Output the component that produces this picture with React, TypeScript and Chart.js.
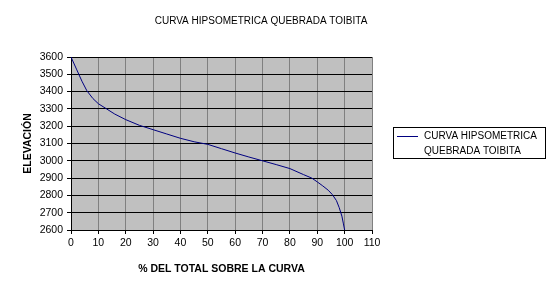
import React, { useEffect, useRef } from "react";
import { Chart, registerables } from "chart.js";

Chart.register(...registerables);

const chartTitle = "CURVA HIPSOMETRICA QUEBRADA TOIBITA";
const seriesLabel = "CURVA HIPSOMETRICA QUEBRADA TOIBITA";
const legendLines = ["CURVA HIPSOMETRICA", "QUEBRADA TOIBITA"];
const xAxisTitle = "% DEL TOTAL SOBRE LA CURVA";
const yAxisTitle = "ELEVACIÓN";

const percentAbove = [0, 2, 4, 5.8, 8, 10, 13, 16, 20, 25, 30, 35, 40, 45, 50, 55, 60, 65, 70, 75, 80, 85, 88, 90, 92, 94, 95.5, 97, 98, 99, 99.5, 100];
const elevation = [3600, 3530, 3460, 3405, 3360, 3330, 3300, 3270, 3238, 3205, 3180, 3155, 3130, 3110, 3095, 3070, 3045, 3022, 3000, 2978, 2955, 2920, 2900, 2878, 2855, 2830, 2805, 2770, 2730, 2680, 2640, 2600];

const xMin = 0;
const xMax = 110;
const xStep = 10;
const yMin = 2600;
const yMax = 3600;
const yStep = 100;

const FONT = "Arial, 'Liberation Sans', sans-serif";
const LINE_COLOR = "#000080";

const decorPlugin = {
  id: "decor",
  beforeDraw(chart: any) {
    const { ctx, chartArea } = chart;
    ctx.save();
    ctx.fillStyle = "#C0C0C0";
    ctx.fillRect(chartArea.left, chartArea.top, chartArea.right - chartArea.left, chartArea.bottom - chartArea.top);
    ctx.restore();
  },
  afterDraw(chart: any) {
    const { ctx } = chart;
    ctx.save();
    ctx.fillStyle = "#000";
    ctx.font = `10px ${FONT}`;
    ctx.textAlign = "center";
    ctx.textBaseline = "middle";
    ctx.fillText(chartTitle, 261, 21);
    ctx.strokeStyle = "#000";
    ctx.lineWidth = 1;
    ctx.strokeRect(393.5, 127.5, 152, 31);
    ctx.strokeStyle = LINE_COLOR;
    ctx.beginPath();
    ctx.moveTo(397, 136.5);
    ctx.lineTo(418, 136.5);
    ctx.stroke();
    ctx.fillStyle = "#000";
    ctx.textAlign = "left";
    ctx.font = `10px ${FONT}`;
    legendLines.forEach((t, i) => ctx.fillText(t, 424, 136.5 + i * 14.5));
    ctx.restore();
  },
};

export default function App() {
  const ref = useRef<HTMLCanvasElement>(null);
  useEffect(() => {
    document.body.style.margin = "0";
    const canvas = ref.current!;
    const chart = new Chart(canvas, {
      type: "line",
      data: {
        datasets: [
          {
            label: seriesLabel,
            data: percentAbove.map((x, i) => ({ x, y: elevation[i] })),
            borderColor: LINE_COLOR,
            borderWidth: 1,
            pointRadius: 0,
            fill: false,
            tension: 0,
          },
        ],
      },
      options: {
        animation: false,
        responsive: false,
        devicePixelRatio: 1,
        layout: { padding: { left: 0, top: 57, right: 180, bottom: 0 } },
        plugins: {
          legend: { display: false },
          title: { display: false },
          tooltip: { enabled: false },
        },
        scales: {
          x: {
            type: "linear",
            min: xMin,
            max: xMax,
            ticks: {
              stepSize: xStep,
              color: "#000",
              font: { family: FONT, size: 10.5 },
              padding: 3,
              maxRotation: 0,
              callback: (v: any) => String(v),
            },
            grid: { color: "#808080", tickColor: "#000", tickLength: 4, lineWidth: 1 },
            border: { color: "#000", width: 1 },
            title: { display: true, text: xAxisTitle, color: "#000", font: { family: FONT, size: 10.5, weight: "bold" }, padding: { top: 0, bottom: 19 } },
            afterFit(scale: any) {
              scale.height = 64;
            },
          },
          y: {
            type: "linear",
            min: yMin,
            max: yMax,
            ticks: {
              stepSize: yStep,
              color: "#000",
              font: { family: FONT, size: 10.5 },
              padding: 4,
              callback: (v: any) => String(v),
            },
            grid: { color: "#000", tickColor: "#000", tickLength: 4, lineWidth: 1 },
            border: { color: "#000", width: 1 },
            title: { display: true, text: yAxisTitle, color: "#000", font: { family: FONT, size: 10.5, weight: "bold" }, padding: { top: 22, bottom: 0 } },
            afterFit(scale: any) {
              scale.width = 71;
            },
          },
        },
      },
      plugins: [decorPlugin],
    });
    return () => chart.destroy();
  }, []);
  return <canvas ref={ref} width={552} height={294} style={{ display: "block", width: 552, height: 294 }} />;
}
